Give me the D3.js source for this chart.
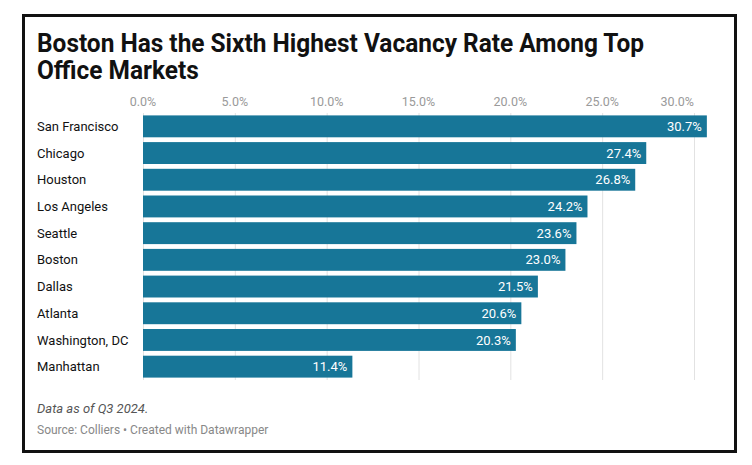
<!DOCTYPE html>
<html><head><meta charset="utf-8">
<script src="https://cdn.jsdelivr.net/npm/d3@7"></script>
<style>
html,body{margin:0;padding:0;background:#fff;}
svg{display:block;}
</style></head>
<body>
<svg id="c" width="752" height="465"></svg>
<script>
const cities = ["San Francisco","Chicago","Houston","Los Angeles","Seattle","Boston","Dallas","Atlanta","Washington, DC","Manhattan"];
const vacancy = [30.7,27.4,26.8,24.2,23.6,23.0,21.5,20.6,20.3,11.4];
const ticks = [0,5,10,15,20,25,30];
const titleLines = ["Boston Has the Sixth Highest Vacancy Rate Among Top","Office Markets"];
const note = "Data as of Q3 2024.";
const source = "Source: Colliers • Created with Datawrapper";

const svg = d3.select("#c");
svg.append("rect").attr("x",23.5).attr("y",15.5).attr("width",712).attr("height",436)
  .attr("fill","#fff").attr("stroke","#111").attr("stroke-width",3);

svg.append("g").attr("transform","translate(37,0) scale(0.94,1)")
  .selectAll("text.title").data(titleLines).join("text").attr("class","title")
  .attr("x",0).attr("y",(d,i)=>52+i*27)
  .attr("font-family","Roboto, sans-serif").attr("font-weight",700)
  .attr("font-size",26).attr("fill","#111")
  .text(d=>d);

const x = d3.scaleLinear().domain([0,30]).range([143,694]);
const y = d3.scaleBand().domain(cities).range([113,380]).paddingInner(0.18).paddingOuter(0.09);

// gridlines
svg.append("g").selectAll("line").data(ticks).join("line")
  .attr("x1",d=>x(d)+0.5).attr("x2",d=>x(d)+0.5).attr("y1",113).attr("y2",380)
  .attr("stroke","#e2e2e2").attr("stroke-width",1);

// tick labels
svg.append("g").selectAll("text").data(ticks).join("text")
  .attr("x",d=>x(d))
  .attr("text-anchor",(d,i)=> i===ticks.length-1 ? "end" : "middle")
  .attr("y",106).attr("font-family","Roboto, sans-serif").attr("font-size",12.5)
  .attr("fill","#9a9a9a").text(d=>d3.format(".1f")(d)+"%");

// bars
const data = cities.map((c,i)=>({c,v:vacancy[i]}));
svg.append("g").selectAll("rect").data(data).join("rect")
  .attr("x",x(0)).attr("y",d=>y(d.c)).attr("width",d=>x(d.v)-x(0)).attr("height",y.bandwidth())
  .attr("fill","#177698");

svg.append("g").selectAll("text").data(data).join("text")
  .attr("x",d=>x(d.v)-5).attr("y",d=>y(d.c)+y.bandwidth()/2).attr("dy","0.35em")
  .attr("text-anchor","end").attr("font-family","Roboto, sans-serif").attr("font-size",13)
  .attr("fill","#fff").text(d=>d.v.toFixed(1)+"%");

svg.append("g").selectAll("text").data(data).join("text")
  .attr("x",37).attr("y",d=>y(d.c)+y.bandwidth()/2).attr("dy","0.35em")
  .attr("font-family","Roboto, sans-serif").attr("font-size",13)
  .attr("fill","#111").text(d=>d.c);

svg.append("text").attr("x",37).attr("y",413).attr("font-family","Roboto, sans-serif")
  .attr("font-size",13).attr("font-style","italic").attr("fill","#555").text(note);
svg.append("text").attr("x",37).attr("y",434).attr("font-family","Roboto, sans-serif")
  .attr("font-size",12).attr("fill","#888").text(source);
</script>
</body></html>
